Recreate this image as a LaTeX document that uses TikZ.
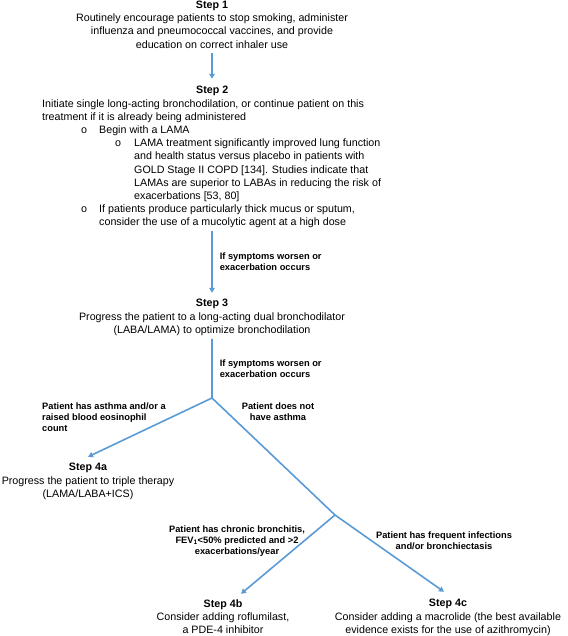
\documentclass[tikz,border=0pt]{standalone}
\usepackage{fontspec}
\setmainfont{Liberation Sans}
\usetikzlibrary{arrows.meta}
\definecolor{flowblue}{HTML}{5B9BD5}
% bullets of the step 2 list
\newcommand{\bulone}{\hspace*{39pt}\makebox[18pt][l]{o}}
\newcommand{\bultwo}{\hspace*{73pt}\makebox[19pt][l]{o}}
\newcommand{\indone}{\hspace*{57pt}}
\newcommand{\indtwo}{\hspace*{92pt}}
\tikzset{
  stepnode/.style={inner sep=0pt,align=center,font=\fontsize{10.7}{13.2}\selectfont},
  cond/.style={inner sep=0pt,font=\fontsize{9.3}{10.9}\selectfont\bfseries},
  trunk/.style={draw=flowblue,line width=1.6pt},
  flow/.style={trunk,-{Triangle[length=5pt,width=5.5pt]}}
}
\begin{document}
\begin{tikzpicture}[x=1pt,y=-1pt]
  \useasboundingbox (0,0) rectangle (567,636);
  % steps
  \node[stepnode,anchor=north] (s1) at (212,0.8) {\textbf{Step 1}\\
    Routinely encourage patients to stop smoking, administer\\
    influenza and pneumococcal vaccines, and provide\\
    education on correct inhaler use};
  \node[stepnode,align=left,anchor=north west] (s2) at (42,86.3) {\makebox[340pt]{\textbf{Step 2}}\\
    Initiate single long-acting bronchodilation, or continue patient on this\\
    treatment if it is already being administered\\
    \bulone Begin with a LAMA\\
    \bultwo LAMA treatment significantly improved lung function\\
    \indtwo and health status versus placebo in patients with\\
    \indtwo GOLD Stage II COPD [134]. Studies indicate that\\
    \indtwo LAMAs are superior to LABAs in reducing the risk of\\
    \indtwo exacerbations [53, 80]\\
    \bulone If patients produce particularly thick mucus or sputum,\\
    \indone consider the use of a mucolytic agent at a high dose};
  \node[stepnode,anchor=north] (s3) at (212,299.3) {\textbf{Step 3}\\
    Progress the patient to a long-acting dual bronchodilator\\
    (LABA/LAMA) to optimize bronchodilation};
  \node[stepnode,anchor=north] (s4a) at (88,463.3) {\textbf{Step 4a}\\
    Progress the patient to triple therapy\\
    (LAMA/LABA+ICS)};
  \node[stepnode,anchor=north] (s4b) at (223,599.3) {\textbf{Step 4b}\\
    Consider adding roflumilast,\\
    a PDE-4 inhibitor};
  \node[stepnode,anchor=north] (s4c) at (448,599.3) {\textbf{Step 4c}\\
    Consider adding a macrolide (the best available\\
    evidence exists for the use of azithromycin)};
  \coordinate (j1) at (212,398);
  \coordinate (j2) at (335,515);
  % connectors
  \draw[flow] ([yshift=-5pt]s1.south) -- ([yshift=7.5pt]s2.north -| s1.south);
  \draw[flow] ([yshift=-3pt]s2.south -| s3.north) -- node[cond,anchor=west,xshift=7pt,align=left]
    {If symptoms worsen or\\exacerbation occurs} ([yshift=6.5pt]s3.north);
  \draw[flow] ([yshift=-3pt]s3.south) -- node[cond,anchor=west,xshift=7pt,align=left]
    {If symptoms worsen or\\exacerbation occurs} (j1) -- (j2) -- ([xshift=-4pt,yshift=7.5pt]s4c.north);
  \draw[flow] (j1) -- ([yshift=6.5pt]s4a.north);
  \draw[flow] (j2) -- ([xshift=18pt,yshift=5.5pt]s4b.north);
  % conditions
  \node[cond,align=left,anchor=west] (c4a) at (42,417) {Patient has asthma and/or a\\raised blood eosinophil\\count};
  \node[cond,align=center] (cno) at (278,412) {Patient does not\\have asthma};
  \node[cond,align=center] (c4b) at (237,541) {Patient has chronic bronchitis,\\FEV\textsubscript{1}<50\% predicted and >2\\exacerbations/year};
  \node[cond,align=center] (c4c) at (444,541) {Patient has frequent infections\\and/or bronchiectasis};
\end{tikzpicture}
\end{document}
